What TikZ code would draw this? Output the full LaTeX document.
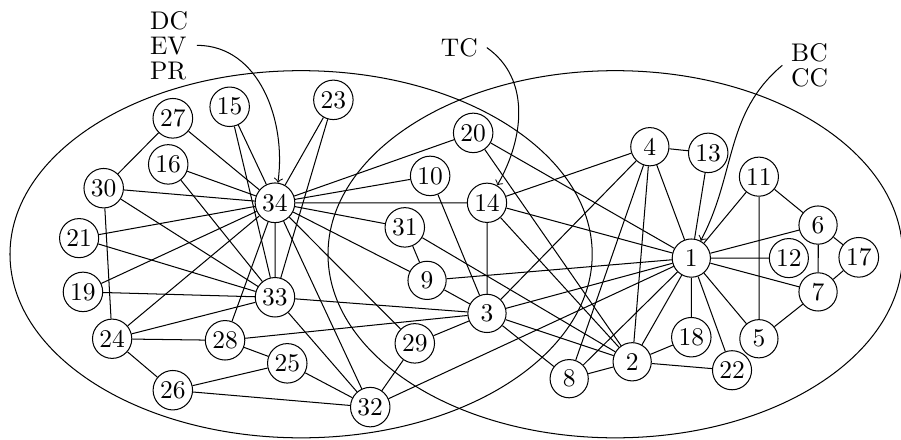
\documentclass[tikz,border=0pt]{standalone}
\usepackage{amsmath}
\usepackage{tikz}
\usetikzlibrary{arrows, calc, positioning}
\tikzstyle{vertex} = [circle, draw=black, fill=white, inner sep=1.2pt, minimum size=15pt]
\tikzstyle{cluster} = [draw=black]
\tikzstyle{measure} = [align=left]
\tikzstyle{arrow} = [->,>=to]

\begin{document}
\begin{tikzpicture}[scale=1.059]
		
		\useasboundingbox (0,0) rectangle (11.73,-5.716);
		
		\draw [cluster] (3.92,-3.31) ellipse [x radius=3.79, y radius=2.39];
		\draw [cluster] (8.01,-3.31) ellipse [x radius=3.74, y radius=2.39];
		
		\node (V1) [vertex] at (9.00,-3.36) {1};
		\node (V2) [vertex] at (8.23,-4.71) {2};
		\node (V3) [vertex] at (6.34,-4.08) {3};
		\node (V4) [vertex] at (8.46,-1.91) {4};
		\node (V5) [vertex] at (9.88,-4.41) {5};
		\node (V6) [vertex] at (10.65,-2.93) {6};
		\node (V7) [vertex] at (10.65,-3.80) {7};
		\node (V8) [vertex] at (7.41,-4.93) {8};
		\node (V9) [vertex] at (5.56,-3.65) {9};
		\node (V10) [vertex] at (5.60,-2.29) {10};
		\node (V11) [vertex] at (9.88,-2.30) {11};
		\node (V12) [vertex] at (10.27,-3.36) {12};
		\node (V13) [vertex] at (9.22,-1.99) {13};
		\node (V14) [vertex] at (6.34,-2.64) {14};
		\node (V15) [vertex] at (2.99,-1.39) {15};
		\node (V16) [vertex] at (2.19,-2.14) {16};
		\node (V17) [vertex] at (11.18,-3.35) {17};
		\node (V18) [vertex] at (9.00,-4.39) {18};
		\node (V19) [vertex] at (1.08,-3.80) {19};
		\node (V20) [vertex] at (6.16,-1.73) {20};
		\node (V21) [vertex] at (1.03,-3.10) {21};
		\node (V22) [vertex] at (9.53,-4.82) {22};
		\node (V23) [vertex] at (4.34,-1.30) {23};
		\node (V24) [vertex] at (1.46,-4.41) {24};
		\node (V25) [vertex] at (3.74,-4.73) {25};
		\node (V26) [vertex] at (2.25,-5.08) {26};
		\node (V27) [vertex] at (2.25,-1.54) {27};
		\node (V28) [vertex] at (2.93,-4.43) {28};
		\node (V29) [vertex] at (5.40,-4.47) {29};
		\node (V30) [vertex] at (1.35,-2.45) {30};
		\node (V31) [vertex] at (5.27,-2.96) {31};
		\node (V32) [vertex] at (4.82,-5.30) {32};
		\node (V33) [vertex] at (3.58,-3.87) {33};
		\node (V34) [vertex] at (3.58,-2.64) {34};
		
		\draw (V1) -- (V2) (V1) -- (V3) (V1) -- (V4) (V1) -- (V5) (V1) -- (V6) (V1) -- (V7) (V1) -- (V8) (V1) -- (V9);
		\draw (V1) -- (V11) (V1) -- (V12) (V1) -- (V13) (V1) -- (V14) (V1) -- (V18) (V1) -- (V20) (V1) -- (V22) (V1) -- (V32);
		\draw (V2) -- (V3) (V2) -- (V4) (V2) -- (V8) (V2) -- (V14) (V2) -- (V18) (V2) -- (V20) (V2) -- (V22) (V2) -- (V31);
		\draw (V3) -- (V4) (V3) -- (V8) (V3) -- (V9) (V3) -- (V10) (V3) -- (V14) (V3) -- (V28) (V3) -- (V29) (V3) -- (V33);
		\draw (V4) -- (V8) (V4) -- (V13) (V4) -- (V14);
		\draw (V5) -- (V7) (V5) -- (V11) (V6) -- (V7) (V6) -- (V11) (V6) -- (V17) (V7) -- (V17);
		\draw (V9) -- (V31) (V9) -- (V34) (V10) -- (V34) (V14) -- (V34) (V20) -- (V34) (V31) -- (V34);
		\draw (V15) -- (V33) (V15) -- (V34) (V16) -- (V33) (V16) -- (V34) (V19) -- (V33) (V19) -- (V34);
		\draw (V21) -- (V33) (V21) -- (V34) (V23) -- (V33) (V23) -- (V34);
		\draw (V24) -- (V26) (V24) -- (V28) (V24) -- (V30) (V24) -- (V33) (V24) -- (V34);
		\draw (V25) -- (V26) (V25) -- (V28) (V25) -- (V32) (V26) -- (V32);
		\draw (V27) -- (V30) (V27) -- (V34) (V28) -- (V34) (V29) -- (V32) (V29) -- (V34);
		\draw (V30) -- (V33) (V30) -- (V34) (V32) -- (V33) (V32) -- (V34) (V33) -- (V34);
		
		\node (DcEvPr) [measure] at (2.20,-0.59) {DC\\[-2.2pt]EV\\[-2.2pt]PR};
		\node (Tc) at (5.98,-0.62) {TC};
		\node (BcCc) [measure] at (10.54,-0.85) {BC\\[-2.2pt]CC};
		
		\draw [arrow] (DcEvPr.east) to[out=0, in=82] (V34);
		\draw [arrow] (Tc.east) to[out=-35, in=60] (V14);
		\draw [arrow] (BcCc.west) to[out=220, in=62] (V1);
		
\end{tikzpicture}
\end{document}
